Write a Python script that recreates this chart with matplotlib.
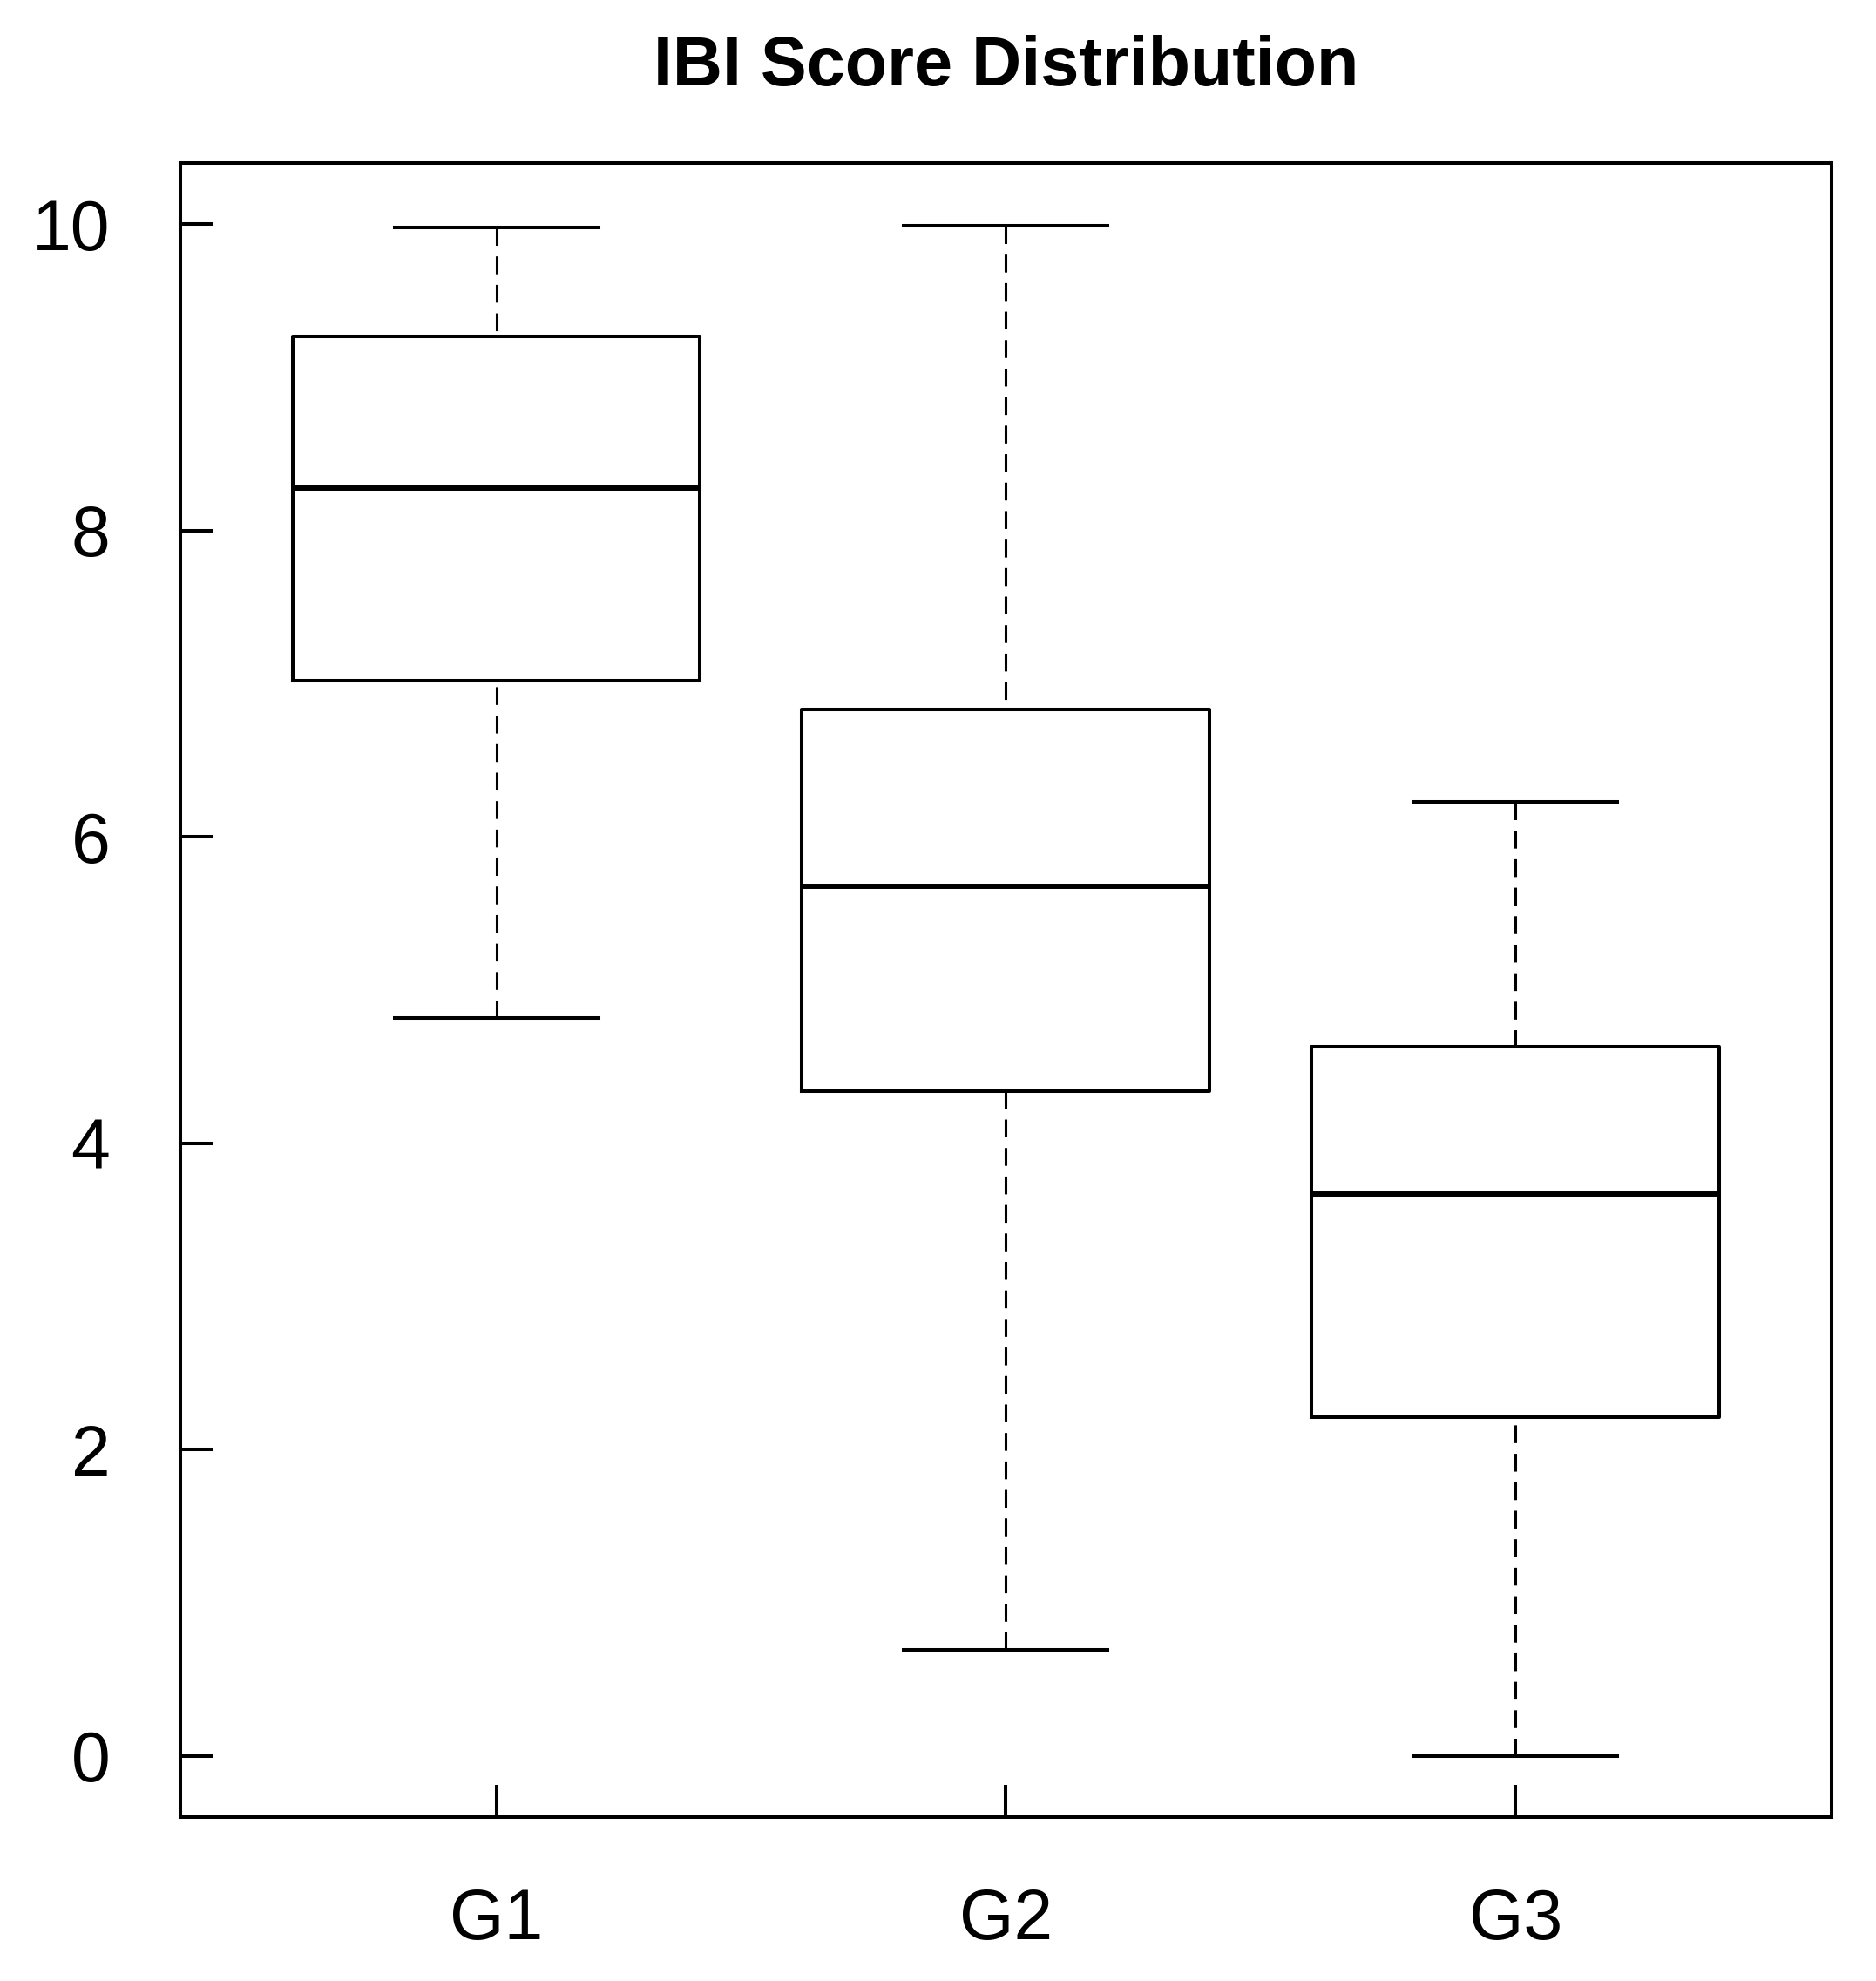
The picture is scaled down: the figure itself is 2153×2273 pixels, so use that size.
import numpy as np
import matplotlib
matplotlib.use("Agg")
import matplotlib.pyplot as plt

plt.rcParams['font.family'] = ['Liberation Sans', 'DejaVu Sans']

# box stats
groups = ['G1', 'G2', 'G3']
whis_lo = [4.82, 0.69, 0.0]
q1 = [7.02, 4.34, 2.21]
med = [8.28, 5.68, 3.67]
q3 = [9.27, 6.83, 4.63]
whis_hi = [9.98, 9.99, 6.23]
yticks = [0, 2, 4, 6, 8, 10]

stats = []
for i in range(len(groups)):
    stats.append({'label': groups[i], 'whislo': whis_lo[i], 'q1': q1[i],
                  'med': med[i], 'q3': q3[i], 'whishi': whis_hi[i]})

fig = plt.figure(figsize=(21.53, 22.73), dpi=100)
ax = fig.add_axes([0.0961, 0.0827, 0.8802, 0.8350])

bp = ax.bxp(stats, positions=[1, 2, 3], widths=0.8, capwidths=0.4,
            showfliers=False,
            boxprops=dict(color='k', linewidth=2.9),
            medianprops=dict(color='k', linewidth=4.3),
            whiskerprops=dict(color='k', linewidth=2.2, linestyle=(0, (6.7, 4))),
            capprops=dict(color='k', linewidth=2.9))

# draw whiskers from the end towards the box, like R does
for w in bp['whiskers']:
    x, y = w.get_data()
    w.set_data(x[::-1], y[::-1])

ax.set_xlim(0.38, 3.62)
ax.set_ylim(-0.4, 10.4)
ax.set_yticks(yticks)
ax.set_yticklabels([str(t) for t in yticks])
ax.set_xticks([1, 2, 3])
ax.set_xticklabels(groups)

ax.tick_params(direction='in', length=27, width=2.9, labelsize=58, pad=58)
for s in ax.spines.values():
    s.set_linewidth(2.9)

fig.text(0.5365, 0.957, 'IBI Score Distribution', ha='center', va='baseline',
         fontsize=57, fontweight='bold')

fig.savefig('out.png', dpi=100)
